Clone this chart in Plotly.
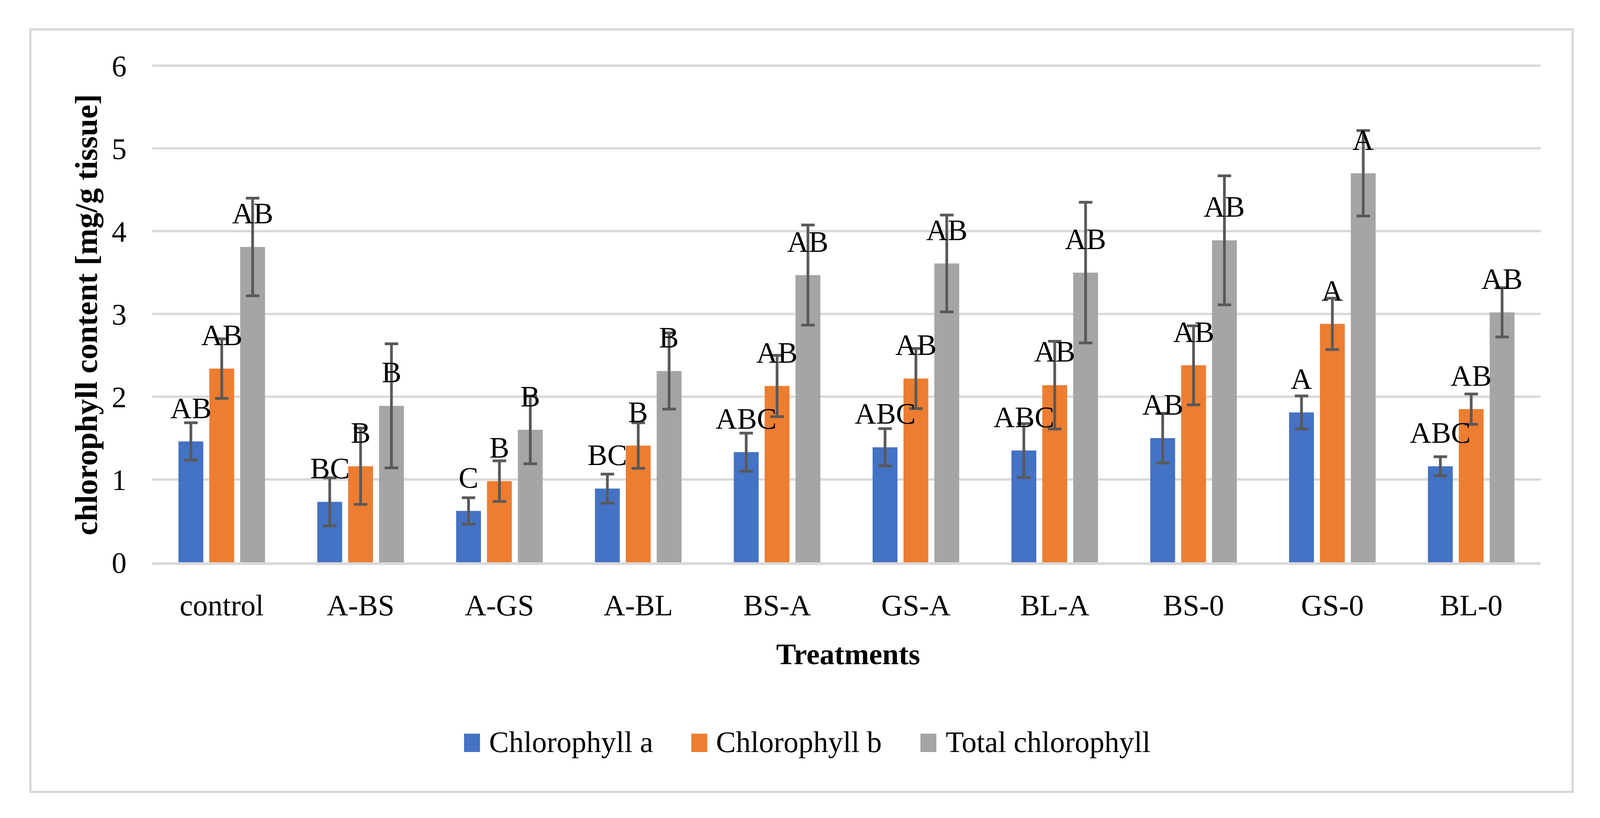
import plotly.graph_objects as go

# ---------------- data ----------------
categories = ["control", "A-BS", "A-GS", "A-BL", "BS-A", "GS-A", "BL-A", "BS-0", "GS-0", "BL-0"]
series_names = ["Chlorophyll a", "Chlorophyll b", "Total chlorophyll"]

chl_a = [1.46, 0.73, 0.62, 0.89, 1.33, 1.39, 1.35, 1.50, 1.81, 1.16]
chl_a_err = [0.225, 0.29, 0.16, 0.175, 0.23, 0.225, 0.325, 0.30, 0.20, 0.115]
chl_a_letters = ["AB", "BC", "C", "BC", "ABC", "ABC", "ABC", "AB", "A", "ABC"]

chl_b = [2.34, 1.16, 0.98, 1.41, 2.13, 2.22, 2.14, 2.38, 2.88, 1.85]
chl_b_err = [0.36, 0.46, 0.245, 0.275, 0.37, 0.363, 0.53, 0.477, 0.31, 0.183]
chl_b_letters = ["AB", "B", "B", "B", "AB", "AB", "AB", "AB", "A", "AB"]

total = [3.81, 1.89, 1.60, 2.31, 3.47, 3.61, 3.50, 3.89, 4.70, 3.02]
total_err = [0.59, 0.75, 0.41, 0.46, 0.605, 0.585, 0.85, 0.78, 0.517, 0.298]
total_letters = ["AB", "B", "B", "B", "AB", "AB", "AB", "AB", "A", "AB"]

y_ticks = [0, 1, 2, 3, 4, 5, 6]
y_range = [0, 6.02]
y_title = "chlorophyll content [mg/g tissue]"
x_title = "Treatments"

# ---------------- style / layout ----------------
colors = ["#4472C4", "#ED7D31", "#A5A5A5"]
FONT = "Liberation Serif"
FS = 76
REF_W = 4513          # reference width; the viewport is 4096 wide
W, H = 4096, 2095
SX = W / REF_W        # horizontal scale from reference pixels
UNIT = 212            # pixels per y unit in the reference


def X(x):
    return x * SX


PB = 1440
PT = PB - y_range[1] * UNIT
PL, PR = X(430), X(4345)  # plot area in pixels


def px(x):
    return (X(x) - PL) / (PR - PL)


def py(y):
    return (PB - y) / (PB - PT)


values = [chl_a, chl_b, total]
errors = [chl_a_err, chl_b_err, total_err]
letters = [chl_a_letters, chl_b_letters, total_letters]
shifts = [-X(87), 0, X(87)]

fig = go.Figure()
for name, v, e, c in zip(series_names, values, errors, colors):
    fig.add_trace(go.Bar(
        x=categories, y=v, name=name,
        marker=dict(color=c, line=dict(width=0)),
        error_y=dict(type="data", array=e, visible=True, color="#595959",
                     thickness=7, width=X(19)),
        showlegend=False,
    ))

annotations = []
for v, let, sh in zip(values, letters, shifts):
    for cat, val, t in zip(categories, v, let):
        annotations.append(dict(
            x=cat, y=val, xref="x", yref="y", text=t, showarrow=False,
            xanchor="center", yanchor="bottom", xshift=sh, yshift=42,
            font=dict(family=FONT, size=FS, color="black"),
        ))

# axis titles
annotations.append(dict(
    x=px(244), y=py(806), xref="paper", yref="paper", text="<b>%s</b>" % y_title,
    textangle=-90, showarrow=False, xanchor="center", yanchor="middle",
    font=dict(family=FONT, size=81, color="black"),
))
annotations.append(dict(
    x=px(2393), y=py(1675), xref="paper", yref="paper", text="<b>%s</b>" % x_title,
    showarrow=False, xanchor="center", yanchor="middle",
    font=dict(family=FONT, size=FS, color="black"),
))

# custom legend (squares + labels)
shapes = []
leg_sq_left = [1309, 1950, 2596]
leg_txt_left = [1377, 2017, 2665]
for name, c, sx, tx in zip(series_names, colors, leg_sq_left, leg_txt_left):
    shapes.append(dict(type="rect", xref="paper", yref="paper",
                       x0=px(sx), x1=px(sx + 45), y0=py(1926), y1=py(1879),
                       fillcolor=c, line=dict(width=0)))
    annotations.append(dict(
        x=px(tx), y=py(1900), xref="paper", yref="paper", text=name,
        showarrow=False, xanchor="left", yanchor="middle",
        font=dict(family=FONT, size=FS, color="black"),
    ))

# outer chart border
shapes.append(dict(type="rect", xref="paper", yref="paper",
                   x0=px(86), x1=px(4435), y0=py(2028), y1=py(75),
                   line=dict(color="#D9D9D9", width=6), fillcolor="rgba(0,0,0,0)",
                   layer="below"))

fig.update_layout(
    width=W, height=H,
    margin=dict(l=PL, r=W - PR, t=PT, b=H - PB, pad=0),
    paper_bgcolor="white", plot_bgcolor="white",
    barmode="group", bargap=0.333, bargroupgap=0.195,
    font=dict(family=FONT, size=FS, color="black"),
    annotations=annotations, shapes=shapes,
    xaxis=dict(
        type="category", showgrid=False, showline=True, linecolor="#D9D9D9",
        linewidth=7, ticks="", ticklabelstandoff=38,
        tickfont=dict(family=FONT, size=FS, color="black"),
    ),
    yaxis=dict(
        range=y_range, tickvals=y_ticks, showgrid=True, gridcolor="#D9D9D9",
        gridwidth=6, zeroline=False, showline=False, ticks="",
        ticklabelstandoff=65,
        tickfont=dict(family=FONT, size=FS, color="black"),
    ),
    showlegend=False,
)

fig.write_html("out.html", config={"displayModeBar": False},
               post_script="document.body.style.margin='0';")
